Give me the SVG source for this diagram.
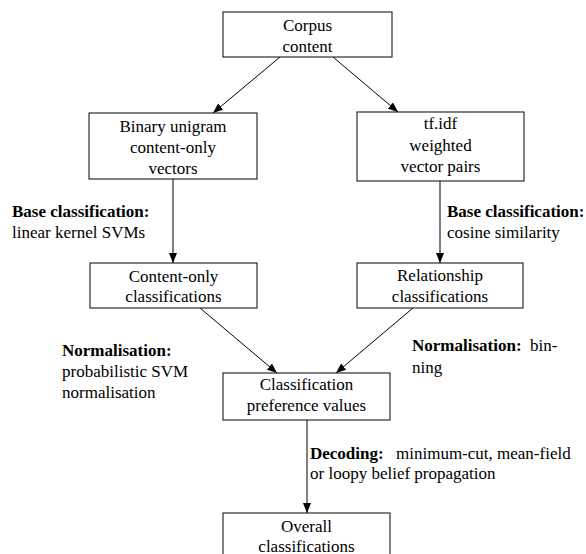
<svg xmlns="http://www.w3.org/2000/svg" width="586" height="554" viewBox="0 0 586 554">
<style>
text{font-family:'Liberation Serif',Tinos,'Times New Roman',Times,'DejaVu Serif','Noto Serif',serif;font-size:17px;fill:#000}
.c{text-anchor:middle}
.b{font-weight:bold}
.box{fill:#fff;stroke:#1a1a1a;stroke-width:1.1}
.edge{stroke:#000;stroke-width:1;fill:none;marker-end:url(#ah)}
</style>
<defs>
<marker id="ah" markerUnits="userSpaceOnUse" markerWidth="11" markerHeight="8" refX="10" refY="4" orient="auto">
<path d="M0,0 L10,4 L0,8 z" fill="#000"/>
</marker>
</defs>
<rect width="586" height="554" fill="#fff"/>
<g id="connectors">
<line class="edge" x1="280" y1="57" x2="213" y2="113"/>
<line class="edge" x1="333" y1="57" x2="398" y2="112"/>
<line class="edge" x1="173" y1="179" x2="173" y2="263"/>
<line class="edge" x1="440" y1="181" x2="440" y2="263"/>
<line class="edge" x1="200" y1="308" x2="277" y2="373"/>
<line class="edge" x1="413" y1="308" x2="336" y2="373"/>
<line class="edge" x1="307" y1="420" x2="307" y2="513"/>
</g>
<g id="corpus">
<rect class="box" x="223" y="12" width="169" height="45"/>
<text class="c" x="307.5" y="30.5">Corpus</text>
<text class="c" x="307.5" y="51.5">content</text>
</g>
<g id="binary">
<rect class="box" x="89" y="113" width="168" height="66"/>
<text class="c" x="173" y="131.5">Binary unigram</text>
<text class="c" x="173" y="152.5">content-only</text>
<text class="c" x="173" y="173.5">vectors</text>
</g>
<g id="tfidf">
<rect class="box" x="357" y="112" width="167" height="69"/>
<text class="c" x="440.5" y="129">tf.idf</text>
<text class="c" x="440.5" y="151">weighted</text>
<text class="c" x="440.5" y="172">vector pairs</text>
</g>
<g id="contentonly">
<rect class="box" x="90" y="263" width="167" height="45"/>
<text class="c" x="173.5" y="281.5">Content-only</text>
<text class="c" x="173.5" y="302">classifications</text>
</g>
<g id="relationship">
<rect class="box" x="357" y="263" width="166" height="45"/>
<text class="c" x="440" y="280.5">Relationship</text>
<text class="c" x="440" y="302">classifications</text>
</g>
<g id="preference">
<rect class="box" x="223" y="373" width="167" height="47"/>
<text class="c" x="306.5" y="390">Classification</text>
<text class="c" x="306.5" y="411">preference values</text>
</g>
<g id="overall">
<rect class="box" x="223" y="513" width="167" height="50"/>
<text class="c" x="306.5" y="532">Overall</text>
<text class="c" x="306.5" y="551.5">classifications</text>
</g>
<g id="labels">
<text x="12" y="216.5"><tspan class="b">Base classification:</tspan></text>
<text x="12" y="237.5">linear kernel SVMs</text>
<text x="447" y="216.5"><tspan class="b">Base classification:</tspan></text>
<text x="447" y="237.5">cosine similarity</text>
<text x="62" y="355.5"><tspan class="b">Normalisation:</tspan></text>
<text x="62" y="376.5">probabilistic SVM</text>
<text x="62" y="398">normalisation</text>
<text x="412" y="351"><tspan class="b">Normalisation:</tspan></text>
<text x="530" y="351">bin-</text>
<text x="412" y="372.5">ning</text>
<text x="310" y="458.5"><tspan class="b">Decoding:</tspan></text>
<text x="396" y="458.5">minimum-cut, mean-field</text>
<text x="310" y="478.5">or loopy belief propagation</text>
</g>
</svg>
